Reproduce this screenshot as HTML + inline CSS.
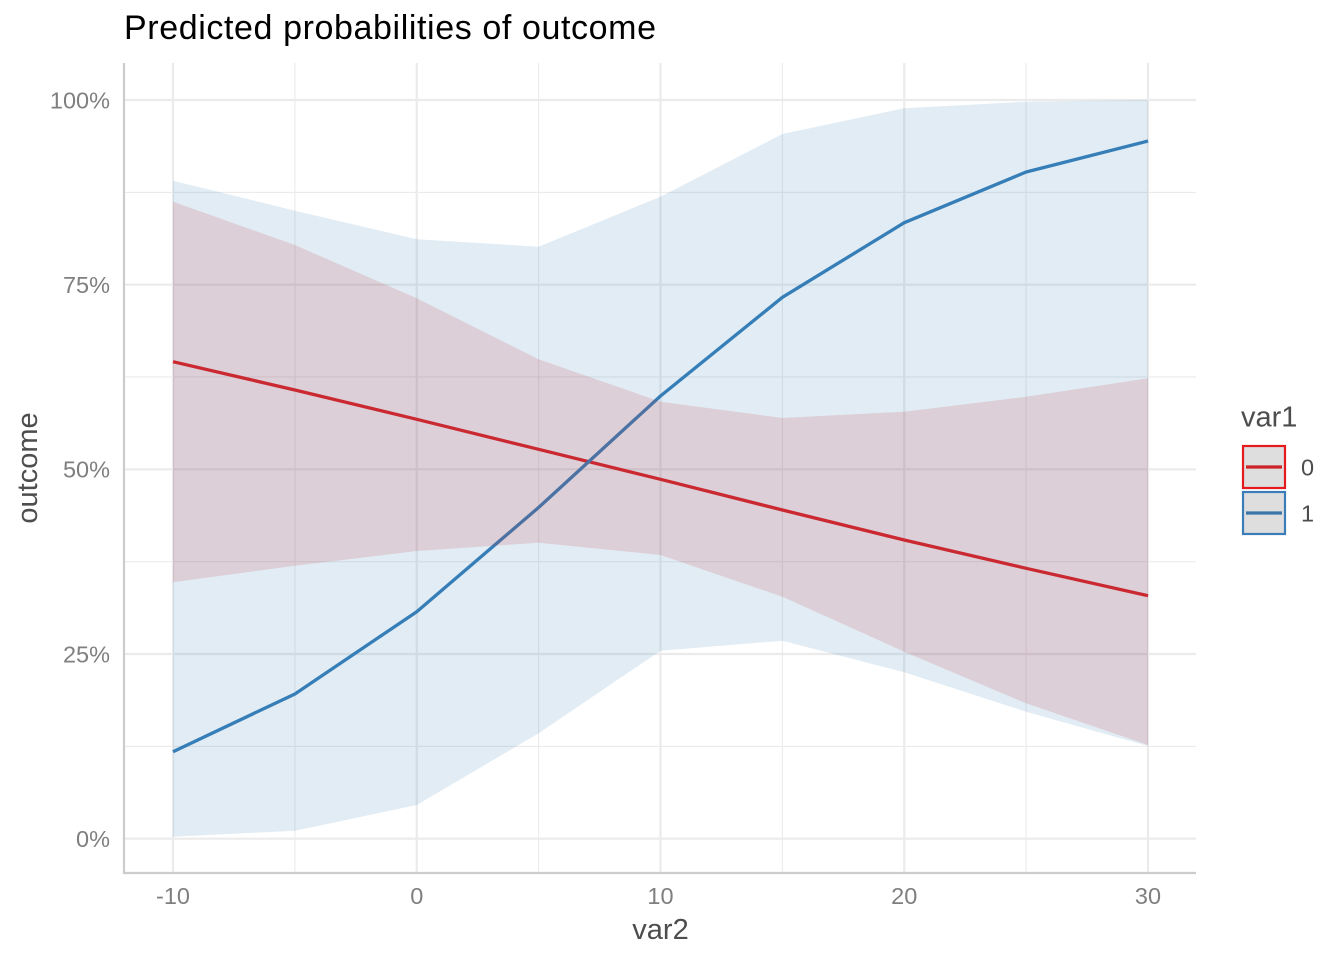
<!DOCTYPE html>
<html>
<head>
<meta charset="utf-8">
<style>
html,body{margin:0;padding:0;background:#ffffff;}
svg{display:block;}
text{font-family:"Liberation Sans",Arial,sans-serif;}
</style>
</head>
<body>
<svg width="1344" height="960" viewBox="0 0 1344 960" xmlns="http://www.w3.org/2000/svg">
  <rect x="0" y="0" width="1344" height="960" fill="#ffffff"/>

  <!-- minor grid -->
  <g stroke="#ebebeb" stroke-width="1.1" fill="none">
    <line x1="124" y1="192.4" x2="1196" y2="192.4"/>
    <line x1="124" y1="376.9" x2="1196" y2="376.9"/>
    <line x1="124" y1="561.7" x2="1196" y2="561.7"/>
    <line x1="124" y1="746.4" x2="1196" y2="746.4"/>
    <line x1="294.9" y1="63" x2="294.9" y2="873"/>
    <line x1="538.6" y1="63" x2="538.6" y2="873"/>
    <line x1="782.4" y1="63" x2="782.4" y2="873"/>
    <line x1="1026.1" y1="63" x2="1026.1" y2="873"/>
  </g>
  <!-- major grid -->
  <g stroke="#ebebeb" stroke-width="2.2" fill="none">
    <line x1="124" y1="100" x2="1196" y2="100"/>
    <line x1="124" y1="284.7" x2="1196" y2="284.7"/>
    <line x1="124" y1="469.3" x2="1196" y2="469.3"/>
    <line x1="124" y1="654" x2="1196" y2="654"/>
    <line x1="124" y1="838.7" x2="1196" y2="838.7"/>
    <line x1="173" y1="63" x2="173" y2="873"/>
    <line x1="416.75" y1="63" x2="416.75" y2="873"/>
    <line x1="660.5" y1="63" x2="660.5" y2="873"/>
    <line x1="904.25" y1="63" x2="904.25" y2="873"/>
    <line x1="1148" y1="63" x2="1148" y2="873"/>
  </g>

  <!-- lines (drawn beneath ribbons) -->
  <polyline fill="none" stroke="#E41A1C" stroke-width="3.3" stroke-linejoin="round"
    points="173,361.7 294.9,390 416.75,419.3 538.6,449.3 660.5,479.3 782.4,510 904.25,540 1026.1,568.3 1148,595.7"/>
  <polyline fill="none" stroke="#377EB8" stroke-width="3.3" stroke-linejoin="round"
    points="173,751.7 294.9,694 416.75,611.7 538.6,507.5 660.5,396 782.4,297.3 904.25,222.7 1026.1,172 1148,141"/>

  <!-- ribbons -->
  <polygon fill="#E41A1C" fill-opacity="0.15"
    points="173,201.7 294.9,245 416.75,298.3 538.6,359.3 660.5,401.7 782.4,418 904.25,411.7 1026.1,396.7 1148,378.3 1148,745 1026.1,703.3 904.25,651.7 782.4,596.7 660.5,555 538.6,542.7 416.75,551 294.9,565.7 173,582.3"/>
  <polygon fill="#377EB8" fill-opacity="0.15"
    points="173,180.7 294.9,210.7 416.75,239.3 538.6,246.7 660.5,196.7 782.4,134 904.25,108.3 1026.1,101.7 1148,100 1148,746 1026.1,711.7 904.25,672.3 782.4,640.7 660.5,650.7 538.6,733.3 416.75,805 294.9,830.7 173,836.7"/>

  <!-- axis lines -->
  <line x1="124" y1="63" x2="124" y2="874" stroke="#cccccc" stroke-width="2.2"/>
  <line x1="123" y1="873" x2="1196" y2="873" stroke="#cccccc" stroke-width="2.2"/>

  <!-- y tick labels -->
  <g fill="#7f7f7f" font-size="23.5" text-anchor="end">
    <text x="110" y="108.3">100%</text>
    <text x="110" y="293">75%</text>
    <text x="110" y="477.6">50%</text>
    <text x="110" y="662.3">25%</text>
    <text x="110" y="847">0%</text>
  </g>
  <!-- x tick labels -->
  <g fill="#7f7f7f" font-size="23.5" text-anchor="middle">
    <text x="173" y="904">-10</text>
    <text x="416.75" y="904">0</text>
    <text x="660.5" y="904">10</text>
    <text x="904.25" y="904">20</text>
    <text x="1148" y="904">30</text>
  </g>

  <!-- axis titles -->
  <text x="660.5" y="939" font-size="29" fill="#4d4d4d" text-anchor="middle">var2</text>
  <text transform="translate(37,468) rotate(-90)" font-size="29" fill="#4d4d4d" text-anchor="middle">outcome</text>

  <!-- title -->
  <text x="124" y="39" font-size="34" fill="#000000" letter-spacing="0.6">Predicted probabilities of outcome</text>

  <!-- legend -->
  <text x="1241" y="426.7" font-size="29" fill="#4d4d4d">var1</text>
  <rect x="1243" y="446" width="42" height="42" fill="#dedede" stroke="#E41A1C" stroke-width="2.2"/>
  <line x1="1246" y1="467" x2="1282" y2="467" stroke="#CC2229" stroke-width="3.3"/>
  <rect x="1243" y="492" width="42" height="42" fill="#dedede" stroke="#3B7DB8" stroke-width="2.2"/>
  <line x1="1246" y1="513" x2="1282" y2="513" stroke="#3A74A8" stroke-width="3.3"/>
  <text x="1301" y="475.5" font-size="23.5" fill="#4d4d4d">0</text>
  <text x="1301" y="521.5" font-size="23.5" fill="#4d4d4d">1</text>
</svg>
</body>
</html>
